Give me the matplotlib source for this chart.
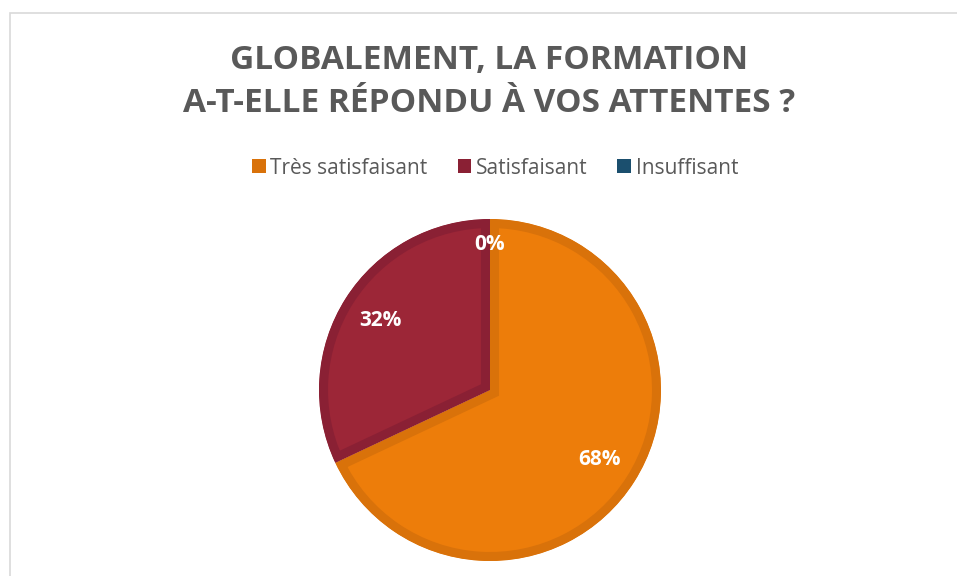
import matplotlib
matplotlib.use("Agg")
from matplotlib import pyplot as plt
from matplotlib.patches import Patch, Rectangle

# donnees du graphique
categories = ["Très satisfaisant", "Satisfaisant", "Insuffisant"]
valeurs = [68, 32, 0]
couleurs = ["#ED7D0A", "#9C2637", "#1F5373"]
bordures = ["#D9720A", "#8A2034", "#1B4F6E"]
titre = "GLOBALEMENT, LA FORMATION\nA-T-ELLE RÉPONDU À VOS ATTENTES ?"

plt.rcParams["font.family"] = ["Open Sans", "DejaVu Sans"]
gris = "#595959"

W, H = 957, 576
fig = plt.figure(figsize=(W / 100, H / 100), dpi=100)

# cadre gris clair autour du graphique
cadre = Rectangle((9.5 / W, -0.1), 1.2, 1 - 13 / H + 0.1, transform=fig.transFigure,
                  fill=False, edgecolor="#D9D9D9", linewidth=1.2)
fig.patches.append(cadre)

# camembert
cx, cy, r = 490, 390, 171
ax = fig.add_axes([(cx - r) / W, 1 - (cy + r) / H, 2 * r / W, 2 * r / H])
wedges, textes, pcts = ax.pie(valeurs, colors=couleurs, startangle=90, counterclock=False,
                              radius=1, autopct="%1.0f%%", pctdistance=0.76,
                              wedgeprops=dict(linewidth=13))
for w, b, v in zip(wedges, bordures, valeurs):
    w.set_edgecolor(b)
    w.set_clip_on(True)
    w.set_clip_path(w)  # bordure seulement a l'interieur de la part
    if v == 0:
        w.set_visible(False)
for t, v in zip(pcts, valeurs):
    t.set_color("white")
    t.set_fontsize(15)
    t.set_fontweight("bold")
    if v == 0:
        x, y = t.get_position()
        t.set_position((x * 0.85 / 0.76, y * 0.85 / 0.76))
ax.set_xlim(-1, 1)
ax.set_ylim(-1, 1)
ax.set_aspect("equal")
ax.axis("off")

# titre
fig.text(489 / W, 1 - 82 / H, titre, ha="center", va="center", fontsize=24,
         fontweight="bold", color=gris, linespacing=1.38)

# legende
poignees = [Patch(facecolor=b, edgecolor="none") for b in bordures]
leg = fig.legend(poignees, categories, loc="center", bbox_to_anchor=(495 / W, 1 - 168 / H),
                 ncol=3, frameon=False, fontsize=15, handlelength=0.67, handleheight=0.67,
                 handletextpad=0.2, columnspacing=1.45, borderpad=0)
for t in leg.get_texts():
    t.set_color(gris)

fig.savefig("out.png", dpi=100)
